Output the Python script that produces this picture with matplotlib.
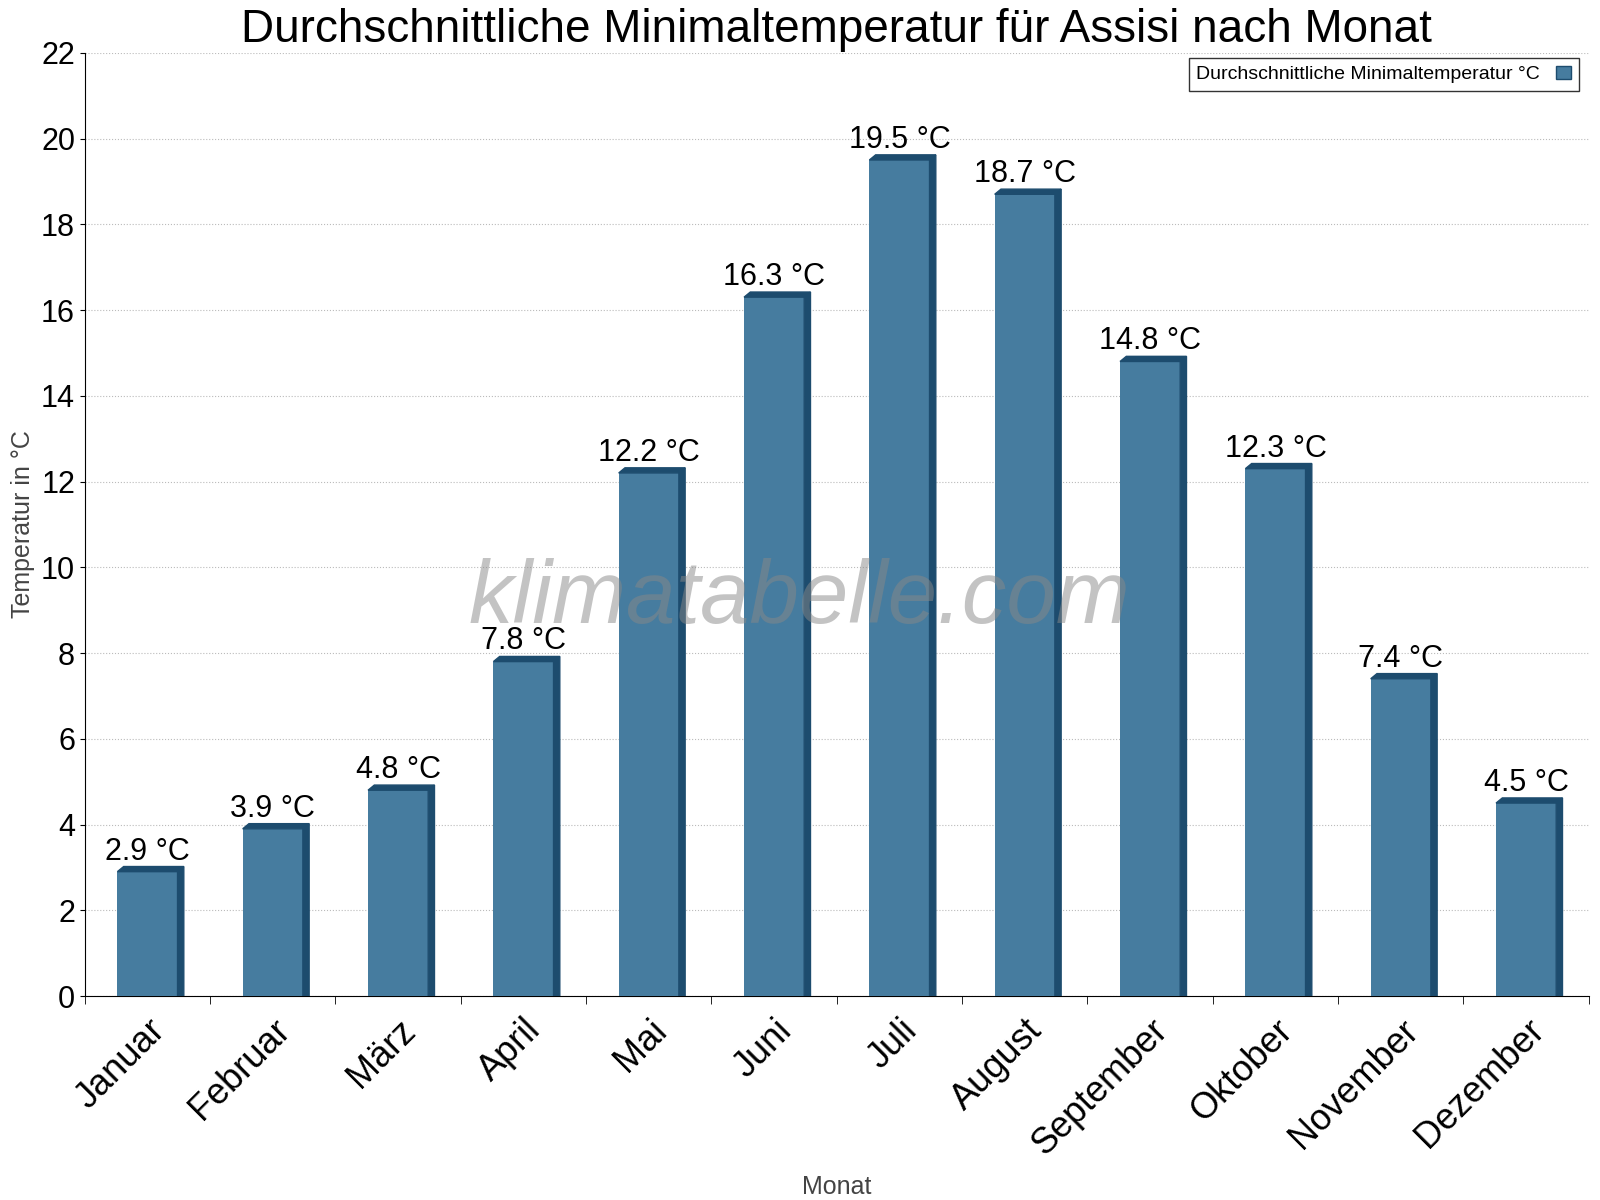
import matplotlib
matplotlib.use("Agg")
import matplotlib.pyplot as plt
from matplotlib.patches import Polygon
import matplotlib.transforms as mtransforms

months = ["Januar","Februar","März","April","Mai","Juni","Juli","August","September","Oktober","November","Dezember"]
values = [2.9,3.9,4.8,7.8,12.2,16.3,19.5,18.7,14.8,12.3,7.4,4.5]
yticks = list(range(0,23,2))

plt.rcParams["font.family"] = "Liberation Sans"
fig = plt.figure(figsize=(16,12), dpi=100)
ax = fig.add_axes([0.053, 0.17, 0.94, 0.786])
w = 0.48
face = "#467c9f"; dark = "#1d4c6e"
d = 0.05; dy = 0.12
for i, v in enumerate(values):
    ax.bar(i, v, width=w, color=face, zorder=3)
    ax.add_patch(Polygon([(i+w/2, 0), (i+w/2+d, 0), (i+w/2+d, v+dy), (i+w/2, v)], closed=True, color=dark, zorder=3))
    ax.add_patch(Polygon([(i-w/2, v), (i-w/2+d, v+dy), (i+w/2+d, v+dy), (i+w/2, v)], closed=True, color=dark, zorder=3))
    ax.text(i, v+0.12, f"{v} °C", ha="center", va="bottom", fontsize=22, zorder=4)
ax.set_xlim(-0.5, 11.5)
ax.set_ylim(0, 22)
ax.set_yticks(yticks)
ax.tick_params(axis="y", labelsize=22)
ax.set_xticks(range(12))
ax.set_xticklabels(months, rotation=45, ha="right", rotation_mode="anchor", fontsize=26)
off = mtransforms.ScaledTranslation(0.45, 0, fig.dpi_scale_trans)
for lab in ax.get_xticklabels():
    lab.set_transform(lab.get_transform() + off)
ax.set_xticks([x+0.5 for x in range(-1,12)], minor=True)
ax.tick_params(axis="x", which="major", length=0, pad=12)
ax.tick_params(axis="x", which="minor", length=6)
ax.grid(axis="y", linestyle=":", color="#bbbbbb", zorder=0)
for s in ["top","right"]:
    ax.spines[s].set_visible(False)
ax.set_ylabel("Temperatur in °C", fontsize=18, color="#444444")
ax.set_xlabel("Monat", fontsize=18, color="#444444")
ax.xaxis.set_label_coords(0.5, -0.19)
ax.set_title("Durchschnittliche Minimaltemperatur für Assisi nach Monat", fontsize=33, pad=8)
ax.text(0.475, 0.42, "klimatabelle.com", transform=ax.transAxes, ha="center", va="center",
        fontsize=64, style="italic", color="#888888", alpha=0.5, zorder=5)
ax.legend([plt.Rectangle((0,0),1,1,fc=face,ec=dark)], ["Durchschnittliche Minimaltemperatur °C"],
          loc="upper right", fontsize=14, fancybox=False, edgecolor="black", markerfirst=False,
          handlelength=0.8, bbox_to_anchor=(1.0, 1.005))
fig.savefig("out.png")
